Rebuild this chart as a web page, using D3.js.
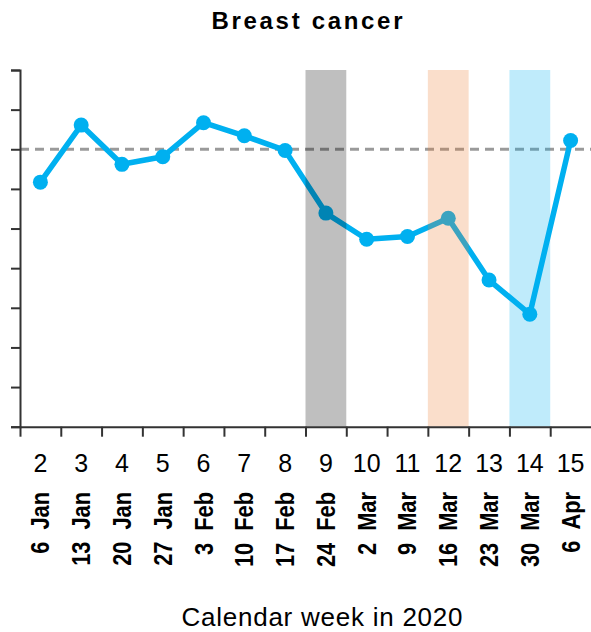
<!DOCTYPE html>
<html>
<head>
<meta charset="utf-8">
<script src="https://cdn.jsdelivr.net/npm/d3@7"></script>
<style>
  html, body { margin: 0; padding: 0; background: #fff; }
  svg { display: block; font-family: "Liberation Sans", Arial, sans-serif; }
</style>
</head>
<body>
<svg id="chart" width="591" height="632"></svg>
<script>
// Data
const weeks = ["2","3","4","5","6","7","8","9","10","11","12","13","14","15"];
const dates = ["6 Jan","13 Jan","20 Jan","27 Jan","3 Feb","10 Feb","17 Feb","24 Feb","2 Mar","9 Mar","16 Mar","23 Mar","30 Mar","6 Apr"];
const values = [6.17, 7.61, 6.62, 6.81, 7.67, 7.34, 6.97, 5.39, 4.73, 4.80, 5.26, 3.70, 2.84, 7.22];
const baseline = 7;
const yTicks = [0,1,2,3,4,5,6,7,8,9];
const highlightWeeks = ["9","12","14"];
const highlightColors = ["#000000","#ED7D31","#00B0F0"];
const title = "Breast cancer";
const xTitle = "Calendar week in 2020";

(function () {
const svg = d3.select("#chart");
const mLeft = 20, mRight = 591, mTop = 70, mBottom = 426.7;

const x = d3.scaleBand().domain(weeks).range([mLeft, mRight]).padding(0);
const y = d3.scaleLinear().domain([0, 9]).range([mBottom, mTop]);

// baseline dashed
svg.append("line")
  .attr("x1", mLeft).attr("x2", mRight)
  .attr("y1", y(baseline)).attr("y2", y(baseline))
  .attr("stroke", "#9a9a9a").attr("stroke-width", 3)
  .attr("stroke-dasharray", "9,6");

// line + points
const line = d3.line().x((d, i) => x(weeks[i]) + x.bandwidth() / 2).y(d => y(d));
svg.append("path").datum(values)
  .attr("d", line).attr("fill", "none")
  .attr("stroke", "#00B0F0").attr("stroke-width", 5.5)
  .attr("stroke-linejoin", "round");
svg.selectAll("circle.pt").data(values).join("circle")
  .attr("class", "pt")
  .attr("cx", (d, i) => x(weeks[i]) + x.bandwidth() / 2)
  .attr("cy", d => y(d))
  .attr("r", 7.5)
  .attr("fill", "#00B0F0");

// highlight bands (on top, translucent)
svg.selectAll("rect.hl").data(highlightWeeks).join("rect")
  .attr("class", "hl")
  .attr("x", d => x(d))
  .attr("y", mTop)
  .attr("width", x.bandwidth())
  .attr("height", mBottom - mTop)
  .attr("fill", (d, i) => highlightColors[i])
  .attr("fill-opacity", 0.25);

// y axis
const yAxis = d3.axisLeft(y).tickValues(yTicks).tickSize(9).tickFormat("");
const gy = svg.append("g").attr("transform", `translate(${mLeft},0)`).call(yAxis);
gy.select(".domain").attr("stroke", "#333").attr("stroke-width", 2);
gy.selectAll(".tick line").attr("stroke", "#333").attr("stroke-width", 2);

// x axis
const xTickPos = weeks.map(w => x(w));
const xAxis = d3.axisBottom(d3.scaleLinear().domain([mLeft, mRight]).range([mLeft, mRight]))
  .tickValues(xTickPos).tickSize(10).tickFormat("").tickSizeOuter(0);
const gx = svg.append("g").attr("transform", `translate(0,${mBottom})`).call(xAxis);
gx.select(".domain").attr("stroke", "#333").attr("stroke-width", 2);
gx.selectAll(".tick line").attr("stroke", "#333").attr("stroke-width", 2);

// week numbers
svg.selectAll("text.wk").data(weeks).join("text")
  .attr("class", "wk")
  .attr("x", d => x(d) + x.bandwidth() / 2)
  .attr("y", 472)
  .attr("text-anchor", "middle")
  .attr("font-size", 25)
  .attr("fill", "#000")
  .text(d => d);

// dates rotated
svg.selectAll("text.dt").data(dates).join("text")
  .attr("class", "dt")
  .attr("transform", (d, i) => `translate(${x(weeks[i]) + x.bandwidth() / 2 + 9},492) rotate(-90) scale(0.84,1)`)
  .attr("text-anchor", "end")
  .attr("font-size", 26)
  .attr("font-weight", "bold")
  .attr("word-spacing", 7)
  .attr("fill", "#000")
  .text(d => d);

// title
svg.append("text")
  .attr("x", 307).attr("y", 29)
  .attr("text-anchor", "middle")
  .attr("font-size", 24).attr("font-weight", "bold")
  .attr("textLength", 191).attr("lengthAdjust", "spacing")
  .text(title);

// x title
svg.append("text")
  .attr("x", 322).attr("y", 626)
  .attr("text-anchor", "middle")
  .attr("font-size", 26)
  .attr("textLength", 281).attr("lengthAdjust", "spacing")
  .text(xTitle);
})();
</script>
</body>
</html>
